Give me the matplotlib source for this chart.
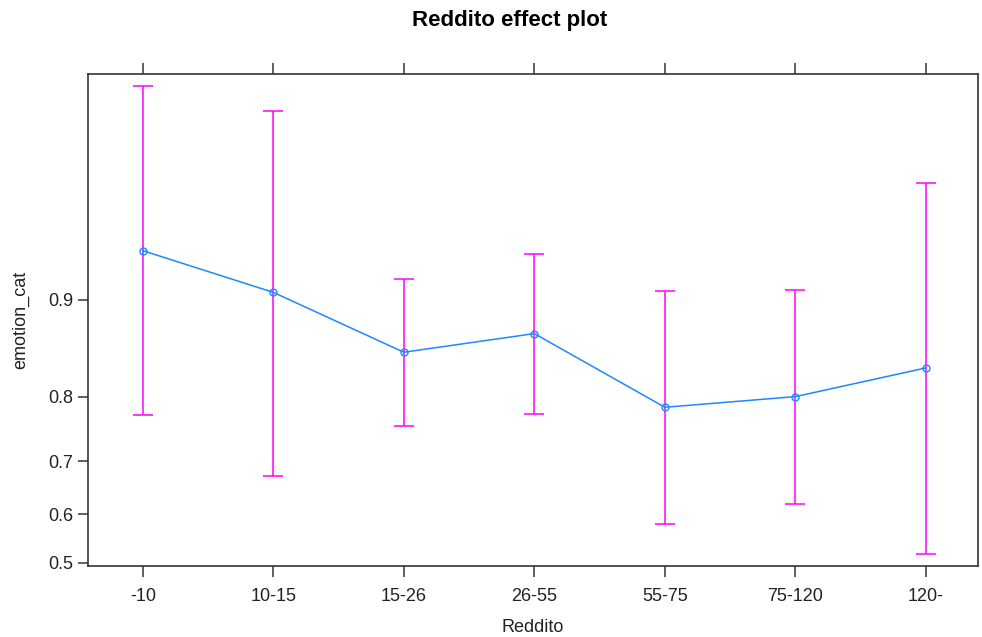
import matplotlib.pyplot as plt
from matplotlib.ticker import FixedLocator, FixedFormatter, NullLocator

plt.rcParams['font.family'] = ['Liberation Sans', 'DejaVu Sans']

categories = ['-10', '10-15', '15-26', '26-55', '55-75', '75-120', '120-']
fit = [0.9314, 0.9055, 0.8531, 0.8716, 0.7857, 0.8003, 0.8359]
lower = [0.7742, 0.6731, 0.7582, 0.7761, 0.5796, 0.6203, 0.5182]
upper = [0.9818, 0.9776, 0.9146, 0.9298, 0.9067, 0.9075, 0.9599]
y_ticks = [0.5, 0.6, 0.7, 0.8, 0.9]

fig = plt.figure(figsize=(9.82, 6.37), dpi=100)
ax = fig.add_axes([0.0896, 0.1115, 0.9064, 0.7728])

xs = list(range(len(categories)))
ax.set_yscale('logit')

# confidence bars
err_lo = [f - l for f, l in zip(fit, lower)]
err_hi = [u - f for f, u in zip(fit, upper)]
ax.errorbar(xs, fit, yerr=[err_lo, err_hi], fmt='none', ecolor='#ff00ff',
            elinewidth=1.1, capsize=7.5, capthick=1.1, zorder=2)
ax.plot(xs, fit, color='#1e88ff', lw=1.1, marker='o', ms=5,
        mfc='none', mec='#1e88ff', mew=1.0, zorder=3)

ax.set_xlim(-0.42, 6.4)
ax.set_ylim(0.4931, 0.9835)
ax.set_xticks(xs)
ax.set_xticklabels(categories)
ax.yaxis.set_major_locator(FixedLocator(y_ticks))
ax.yaxis.set_major_formatter(FixedFormatter([str(v) for v in y_ticks]))
ax.yaxis.set_minor_locator(NullLocator())
ax.yaxis.set_minor_formatter(FixedFormatter([]))

for s in ax.spines.values():
    s.set_color('#333333')
    s.set_linewidth(1.2)
ax.tick_params(axis='x', which='major', direction='out', length=8, width=1.1,
               top=True, labeltop=False, color='#333333', labelsize=13,
               pad=8, labelcolor='#222222')
ax.tick_params(axis='y', which='major', direction='out', length=7, width=1.1,
               color='#333333', labelsize=13, labelcolor='#222222')

ax.set_xlabel('Reddito', fontsize=13, color='#222222', labelpad=10)
ax.set_ylabel('emotion_cat', fontsize=13, color='#222222', labelpad=14)
fig.text(0.519, 0.968, 'Reddito effect plot', fontsize=16, fontweight='bold',
         ha='center', va='center')

fig.savefig('out.png', dpi=100)
